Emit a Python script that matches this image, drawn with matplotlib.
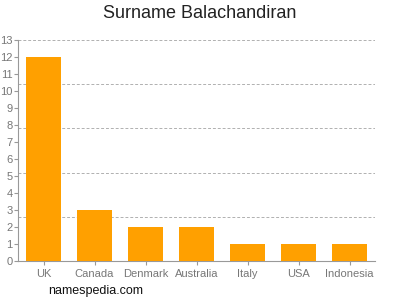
import numpy as np
import matplotlib
matplotlib.use("Agg")
import matplotlib.pyplot as plt

plt.rcParams['font.family'] = ['Liberation Sans', 'DejaVu Sans']

# Data
countries = ["UK", "Canada", "Denmark", "Australia", "Italy", "USA", "Indonesia"]
counts = [12, 3, 2, 2, 1, 1, 1]
grid_levels = [2.6, 5.2, 7.8, 10.4, 13]

fig = plt.figure(figsize=(4, 3), dpi=100)
ax = fig.add_axes([0.045, 0.13, 0.8925, 0.737])

x = np.arange(len(countries))
ax.bar(x, counts, width=0.69, color="#ffa000", zorder=3)

for g in grid_levels:
    ax.axhline(g, color="#b0b0b0", linestyle=(0, (3, 2)), linewidth=0.7, zorder=1)

ax.set_xlim(-0.5, len(countries) - 0.5)
ax.set_ylim(0, 13)
ax.set_yticks(range(0, 14))
ax.set_xticks(x)
ax.set_xticklabels(countries)

for s in ["top", "right"]:
    ax.spines[s].set_visible(False)
for s in ["left", "bottom"]:
    ax.spines[s].set_color("#999999")
    ax.spines[s].set_linewidth(0.8)
ax.tick_params(axis="both", colors="#999999", labelcolor="#777777", labelsize=8,
               length=3, width=0.8, pad=1)
ax.tick_params(axis="x", pad=3)

fig.text(0.5, 0.955, "Surname Balachandiran", ha="center", va="center", fontsize=13, color="#222222")
fig.text(0.12, 0.03, "namespedia.com", ha="left", va="center", fontsize=9, color="#111111")

fig.savefig("out.png", dpi=100)
